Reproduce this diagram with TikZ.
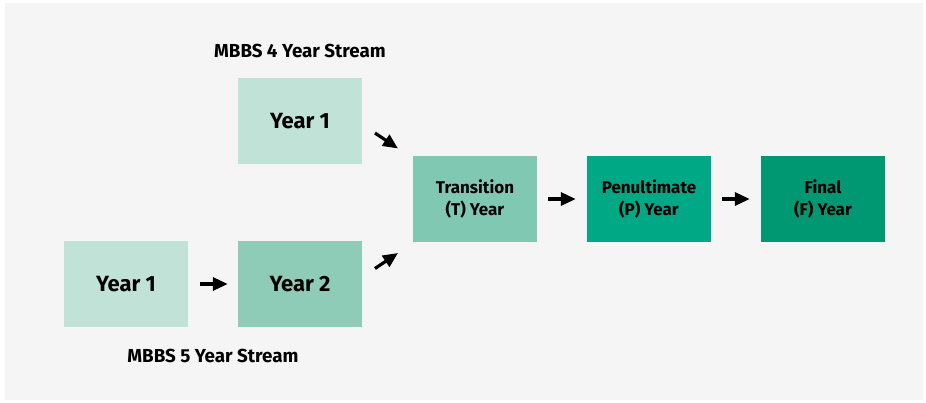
\documentclass[tikz,border=0pt]{standalone}
\usepackage{fontspec}
\setmainfont{Fira Sans}
\usetikzlibrary{arrows.meta}
\definecolor{bgc}{HTML}{F5F5F5}
\definecolor{cA}{HTML}{C1E2D7}
\definecolor{cB}{HTML}{8ECCB8}
\definecolor{cT}{HTML}{80C8B2}
\definecolor{cP}{HTML}{00A886}
\definecolor{cF}{HTML}{009873}
\tikzset{
  yearbox/.style={minimum width=124pt, minimum height=86pt, inner sep=0pt, align=center, font=\bfseries\fontsize{22}{26}\selectfont},
  stagebox/.style={minimum width=124pt, minimum height=86pt, inner sep=0pt, align=center, font=\bfseries\fontsize{17}{21.7}\selectfont},
  streamlabel/.style={inner sep=0pt, font=\bfseries\fontsize{18.8}{22}\selectfont},
  flow/.style={line width=3.2pt, -{Triangle[length=15pt,width=13pt]}}
}
\begin{document}
\begin{tikzpicture}[x=1pt,y=-1pt]
\useasboundingbox (0,0) rectangle (926,402);
\fill[bgc] (5,3) rectangle (923,400);
\node[yearbox, fill=cA] (y1a) at (300,121) {Year 1};
\node[yearbox, fill=cA] (y1b) at (126,284) {Year 1};
\node[yearbox, fill=cB] (y2b) at (300,284) {Year 2};
\node[stagebox, fill=cT] (t) at (475,199) {Transition\\(T) Year};
\node[stagebox, fill=cP] (p) at (649,199) {Penultimate\\(P) Year};
\node[stagebox, fill=cF] (f) at (823,199) {Final\\(F) Year};
\node[streamlabel] (l4) at (300,51) {MBBS 4 Year Stream};
\node[streamlabel] (l5) at (213,356) {MBBS 5 Year Stream};
\coordinate (a1s) at (375,133); \coordinate (a1e) at (398,148.5);
\coordinate (a2s) at (375,268.5); \coordinate (a2e) at (398,253);
\draw[flow] (a1s) -- (a1e);
\draw[flow] (a2s) -- (a2e);
\draw[flow] ([xshift=12pt]y1b.east) -- ([xshift=-10pt]y2b.west);
\draw[flow] ([xshift=11pt]t.east) -- ([xshift=-11pt]p.west);
\draw[flow] ([xshift=11pt]p.east) -- ([xshift=-11pt]f.west);
\end{tikzpicture}
\end{document}
